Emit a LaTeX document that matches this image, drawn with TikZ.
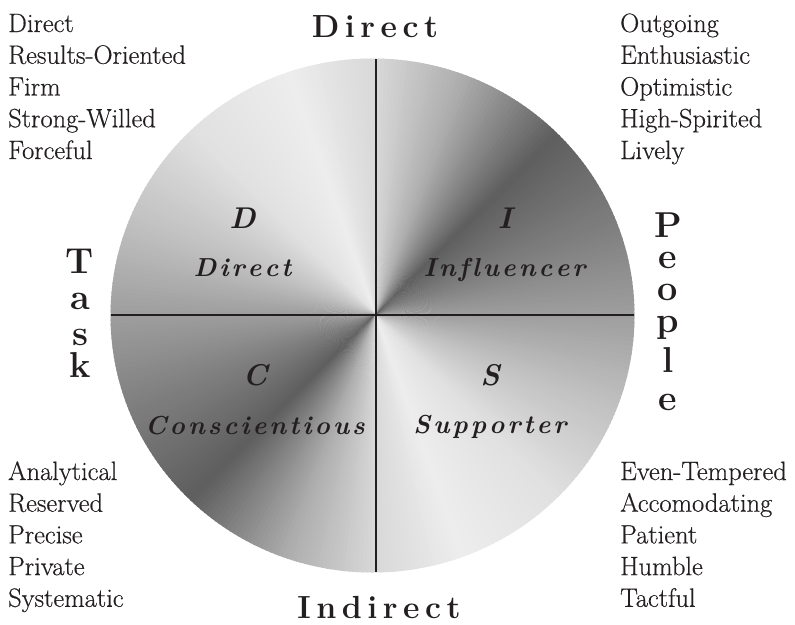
\documentclass[tikz,border=0pt]{standalone}
\usepackage{fontspec}
\setmainfont{Latin Modern Roman}
\newfontfamily\itemfont[FakeBold=0.5]{Latin Modern Roman}
\usetikzlibrary{calc}
\definecolor{ink}{RGB}{35,31,32}
\newcommand{\trk}{\kern5.5pt}
\newcommand{\trq}{\kern3pt}
\begin{document}
\begin{tikzpicture}[x=1pt,y=-1pt,
  item/.style={anchor=base west,inner sep=0pt,font=\itemfont\fontsize{26.5}{30}\selectfont,text=ink},
  axislbl/.style={anchor=base,inner sep=0pt,font=\fontsize{32}{36}\selectfont\bfseries,text=ink},
  sidelbl/.style={anchor=base,inner sep=0pt,font=\fontsize{36}{40}\selectfont\bfseries,text=ink},
  qletter/.style={anchor=base,inner sep=0pt,font=\fontsize{30}{34}\selectfont\bfseries\itshape,text=ink},
  qname/.style={anchor=base,inner sep=0pt,font=\fontsize{26}{30}\selectfont\bfseries\itshape,text=ink},
  crossline/.style={line width=2pt,draw=ink}]
\useasboundingbox (0,0) rectangle (795,624);
\coordinate (cc) at (375.5,314.5);
% shaded disc
\begin{scope}
\clip (372.5,315.5) ellipse [x radius=262, y radius=257];
\foreach \a/\ga/\b/\gb in {0/62/20/50,20/50/45/37,45/37/70/68,70/68/90/85,90/85/110/93,110/93/135/88,135/88/160/75,160/75/180/62}{
  \foreach \off in {0,180}{
    \pgfmathtruncatemacro\n{\b-\a-1}
    \foreach \t in {0,...,\n}{
      \pgfmathsetmacro\g{\ga+(\gb-\ga)*(\t+0.5)/(\b-\a)}
      \pgfmathsetmacro\th{\a+\t+\off}
      \fill[white!\g!black] (cc) -- ($(cc)+(-\th:400)$) -- ($(cc)+(-\th-1.4:400)$) -- cycle;
    }
  }
}
\end{scope}
% cross
\coordinate (ctop) at (375.5,59);
\coordinate (cbot) at (375.5,572);
\coordinate (cleft) at (110.5,315);
\coordinate (cright) at (634,315);
\draw[crossline] (ctop) -- (cbot);
\draw[crossline] (cleft) -- (cright);
% axis labels
\node[axislbl] (dir) at (375,37) {D\trk i\trk r\trk e\trk c\trk t};
\node[axislbl] (ind) at (379,618) {I\trk n\trk d\trk i\trk r\trk e\trk c\trk t};
\foreach \l/\y [count=\i] in {T/273,a/309,s/345,k/377}
  \node[sidelbl] (task\i) at (80,\y) {\l};
\foreach \l/\y [count=\i] in {P/237,e/268,o/300,p/332,l/372,e/410}
  \node[sidelbl] (ppl\i) at (668,\y) {\l};
% quadrant labels
\node[qletter] (qD) at (242.5,228) {D};
\node[qname] (nD) at (242.5,276) {D\trq i\trq r\trq e\trq c\trq t};
\node[qletter] (qI) at (505,228) {I};
\node[qname] (nI) at (504.5,276) {I\trq n\trq f\trq l\trq u\trq e\trq n\trq c\trq e\trq r};
\node[qletter] (qC) at (255,385) {C};
\node[qname] (nC) at (255,434) {C\trq o\trq n\trq s\trq c\trq i\trq e\trq n\trq t\trq i\trq o\trq u\trq s};
\node[qletter] (qS) at (490,385) {S};
\node[qname] (nS) at (490,433) {S\trq u\trq p\trq p\trq o\trq r\trq t\trq e\trq r};
% trait lists
\foreach \t [count=\i] in {Direct,Results-Oriented,Firm,Strong-Willed,Forceful}
  \node[item] (tl\i) at (8,{32+(\i-1)*31.75}) {\t};
\foreach \t [count=\i] in {Outgoing,Enthusiastic,Optimistic,High-Spirited,Lively}
  \node[item] (tr\i) at (620,{32+(\i-1)*31.75}) {\t};
\foreach \t [count=\i] in {Analytical,Reserved,Precise,Private,Systematic}
  \node[item] (bl\i) at (8,{480+(\i-1)*31.7}) {\t};
\foreach \t [count=\i] in {Even-Tempered,Accomodating,Patient,Humble,Tactful}
  \node[item] (br\i) at (620,{480+(\i-1)*31.7}) {\t};
\end{tikzpicture}
\end{document}
